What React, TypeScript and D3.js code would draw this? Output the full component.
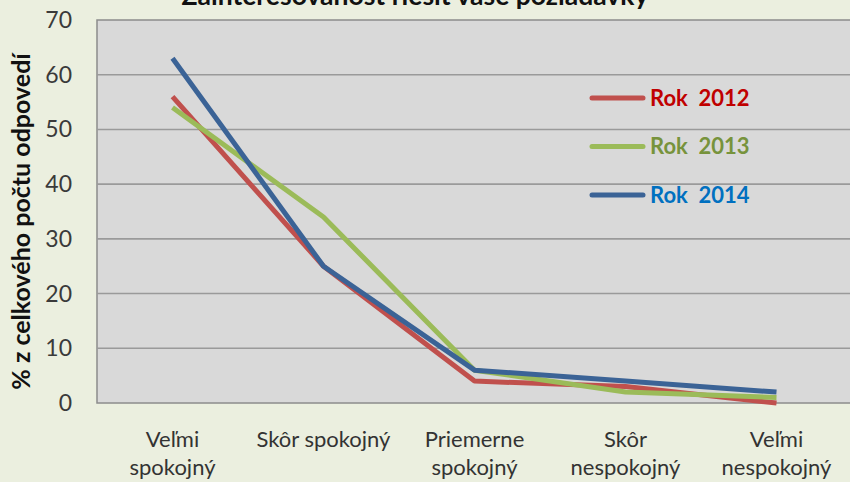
import React from "react";
import * as d3 from "d3";

const categories = [
  ["Veľmi", "spokojný"],
  ["Skôr spokojný"],
  ["Priemerne", "spokojný"],
  ["Skôr", "nespokojný"],
  ["Veľmi", "nespokojný"],
];
const categoryKeys = ["c1", "c2", "c3", "c4", "c5"];
const series2012 = [56, 25, 4, 3, 0];
const series2013 = [54, 34, 6, 2, 1];
const series2014 = [63, 25, 6, 4, 2];
const seriesNames = ["Rok  2012", "Rok  2013", "Rok  2014"];
const yTicks = [0, 10, 20, 30, 40, 50, 60, 70];
const title = "Zainteresovanosť riešiť vaše požiadavky";
const yTitle = "% z celkového počtu odpovedí";

const W = 850;
const H = 482;
const FONT = "Lato, 'Open Sans', sans-serif";

export default function App() {
  const left = 97;
  const right = 852;
  const top = 20;
  const bottom = 403;
  const x = d3.scaleBand<string>().domain(categoryKeys).range([left, right]);
  const y = d3.scaleLinear().domain([0, 70]).range([bottom, top]);
  const lineColors = ["#C0504D", "#9BBB59", "#3B6396"];
  const textColors = ["#C00000", "#77933C", "#0070C0"];
  const all = [series2012, series2013, series2014];
  const line = d3
    .line<number>()
    .x((_, i) => (x(categoryKeys[i]) as number) + x.bandwidth() / 2)
    .y((d) => y(d));

  return (
    <svg
      width={W}
      height={H}
      style={{ position: "absolute", left: 0, top: 0, display: "block" }}
    >
      <rect x={0} y={0} width={W} height={H} fill="#EBEFDF" />
      <text
        x={415}
        y={5}
        textAnchor="middle"
        fontFamily={FONT}
        fontWeight="bold"
        fontSize={26.5}
        fill="#111"
      >
        {title}
      </text>
      <rect x={left} y={top} width={right - left} height={bottom - top} fill="#D9D9D9" stroke="#8C8C8C" strokeWidth={1.5} />
      {yTicks.map((t) => (
        <g key={t}>
          {t > 0 && t < 70 && (
            <line x1={left} x2={right} y1={y(t)} y2={y(t)} stroke="#9A9A9A" strokeWidth={1.6} />
          )}
          <text
            x={72}
            y={y(t)}
            dy="0.35em"
            textAnchor="end"
            fontFamily={FONT}
            fontSize={23}
            fill="#3A3A3A"
          >
            {t}
          </text>
        </g>
      ))}
      <text
        transform={`translate(30,${(top + bottom) / 2 + 10}) rotate(-90)`}
        textAnchor="middle"
        fontFamily={FONT}
        fontWeight="bold"
        fontSize={25}
        fill="#111"
      >
        {yTitle}
      </text>
      {categories.map((lines, i) => {
        const cx = (x(categoryKeys[i]) as number) + x.bandwidth() / 2;
        return (
          <text key={i} textAnchor="middle" fontFamily={FONT} fontSize={22} fill="#333">
            {lines.map((l, j) => (
              <tspan key={j} x={cx} y={447 + j * 28}>
                {l}
              </tspan>
            ))}
          </text>
        );
      })}
      {all.map((s, i) => (
        <path
          key={i}
          d={line(s) as string}
          fill="none"
          stroke={lineColors[i]}
          strokeWidth={5}
          strokeLinejoin="round"
        />
      ))}
      {seriesNames.map((n, i) => (
        <g key={n}>
          <line
            x1={592}
            x2={643}
            y1={98 + i * 48.5}
            y2={98 + i * 48.5}
            stroke={lineColors[i]}
            strokeWidth={5}
            strokeLinecap="round"
          />
          <text
            x={650}
            y={98 + i * 48.5}
            dy="0.36em"
            fontFamily={FONT}
            fontWeight="bold"
            fontSize={22}
            fill={textColors[i]}
            style={{ whiteSpace: "pre" }}
            xmlSpace="preserve"
          >
            {n}
          </text>
        </g>
      ))}
    </svg>
  );
}
